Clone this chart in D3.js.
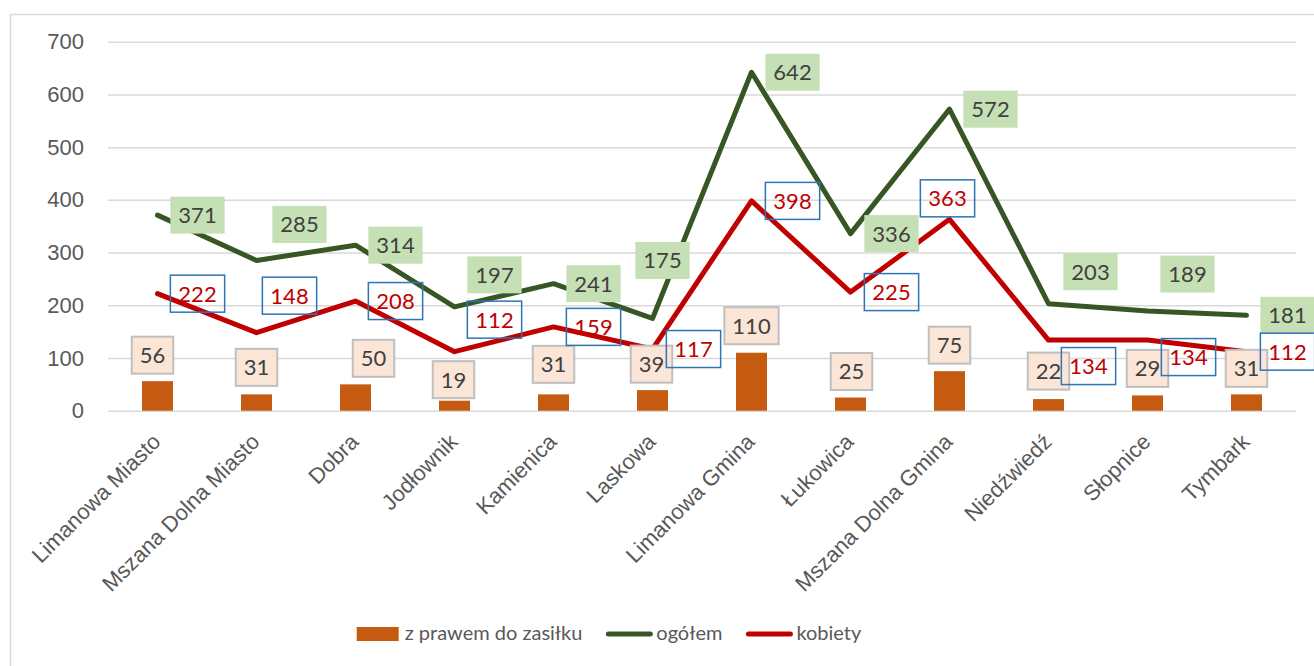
<!DOCTYPE html>
<html>
<head>
<meta charset="utf-8">
<script src="https://cdn.jsdelivr.net/npm/d3@7"></script>
<style>
  body { margin: 0; background: #fff; }
  svg { font-family: Lato, "Open Sans", sans-serif; }
</style>
</head>
<body>
<div id="chart"></div>
<script>
// data
var categories = ["Limanowa Miasto", "Mszana Dolna Miasto", "Dobra", "Jodłownik", "Kamienica", "Laskowa",
  "Limanowa Gmina", "Łukowica", "Mszana Dolna Gmina", "Niedźwiedź", "Słopnice", "Tymbark"];
var zPrawem = [56, 31, 50, 19, 31, 39, 110, 25, 75, 22, 29, 31];
var ogolem = [371, 285, 314, 197, 241, 175, 642, 336, 572, 203, 189, 181];
var kobiety = [222, 148, 208, 112, 159, 117, 398, 225, 363, 134, 134, 112];
var yTicks = [0, 100, 200, 300, 400, 500, 600, 700];
var seriesNames = ["z prawem do zasiłku", "ogółem", "kobiety"];

// label placement (pixel nudges from the point, like dragged labels in the original)
var nudgeBars = [[-5, -26], [0, -27], [18, -26], [-1, -21], [0, -30], [-1, -26], [0, -27], [1, -26], [0, -26], [0, -28], [0, -27], [0, -26]];
var nudgeOgolem = [[40, 0], [43, -36], [40, 0], [40, -32], [40, 0], [10, -58], [41, 0], [41, 0], [41, 0], [42, -32], [40, -37], [41, 0]];
var nudgeKobiety = [[40, 0], [33, -37], [40, 0], [40, -32], [40, 0], [41, 0], [41, 0], [41, 0], [-2, -21], [40, 26], [41, 17], [41, 0]];

var width = 1314, height = 666;
var plot = { left: 108, right: 1296, top: 41.7, bottom: 410.7 };

var colors = { bar: "#C55A11", ogolem: "#375623", kobiety: "#C00000", text: "#595959" };

var svg = d3.select("#chart").append("svg")
  .attr("width", width)
  .attr("height", height);

// outer chart border
svg.append("rect")
  .attr("x", 10.5).attr("y", 14.5)
  .attr("width", 1330).attr("height", 700)
  .attr("fill", "none")
  .attr("stroke", "#D9D9D9")
  .attr("stroke-width", 1.5);

var x = d3.scaleBand()
  .domain(categories)
  .range([plot.left, plot.right])
  .paddingInner(0.687)
  .paddingOuter(0.3435);

var y = d3.scaleLinear()
  .domain([0, 700])
  .range([plot.bottom, plot.top]);

var cx = function(i) { return x(categories[i]) + x.bandwidth() / 2; };

// y axis + gridlines
var yAxis = svg.append("g")
  .attr("transform", "translate(" + plot.left + ",0)")
  .call(d3.axisLeft(y).tickValues(yTicks).tickSize(-(plot.right - plot.left)).tickPadding(24));
yAxis.select(".domain").remove();
yAxis.selectAll(".tick line").attr("stroke", "#D9D9D9").attr("stroke-width", 1.5);
yAxis.selectAll(".tick text")
  .attr("fill", colors.text)
  .style("font-size", "22px");

// x axis labels, rotated
var xAxis = svg.append("g")
  .attr("transform", "translate(0," + plot.bottom + ")")
  .call(d3.axisBottom(x).tickSize(0));
xAxis.select(".domain").remove();
xAxis.selectAll(".tick text")
  .attr("x", 0).attr("y", 0).attr("dy", "0.35em")
  .attr("transform", "translate(-1,27) rotate(-45)")
  .attr("text-anchor", "end")
  .attr("fill", colors.text)
  .style("font-size", "22px");

// bars
svg.append("g").selectAll("rect")
  .data(zPrawem)
  .enter()
  .append("rect")
  .attr("x", function(d, i) { return x(categories[i]); })
  .attr("y", function(d) { return y(d); })
  .attr("width", x.bandwidth())
  .attr("height", function(d) { return y(0) - y(d); })
  .attr("fill", colors.bar);

// lines
var line = d3.line()
  .x(function(d, i) { return cx(i); })
  .y(function(d) { return y(d); });

svg.append("path")
  .datum(ogolem)
  .attr("d", line)
  .attr("fill", "none")
  .attr("stroke", colors.ogolem)
  .attr("stroke-width", 5)
  .attr("stroke-linecap", "round")
  .attr("stroke-linejoin", "round");

svg.append("path")
  .datum(kobiety)
  .attr("d", line)
  .attr("fill", "none")
  .attr("stroke", colors.kobiety)
  .attr("stroke-width", 5)
  .attr("stroke-linecap", "round")
  .attr("stroke-linejoin", "round");

// data labels in boxes
function drawLabels(values, nudge, style) {
  var g = svg.append("g");
  values.forEach(function(v, i) {
    var px = cx(i) + nudge[i][0];
    var py = y(v) + nudge[i][1];
    var lab = g.append("g").attr("transform", "translate(" + px + "," + py + ")");
    var box = lab.append("rect");
    var txt = lab.append("text")
      .attr("text-anchor", "middle")
      .attr("dy", "0.36em")
      .attr("fill", style.color)
      .style("font-size", "22px")
      .text(v);
    var w = txt.node().getComputedTextLength() + 16;
    box.attr("x", -w / 2).attr("y", -18.5)
      .attr("width", w).attr("height", 37)
      .attr("fill", style.fill)
      .attr("stroke", style.stroke)
      .attr("stroke-width", style.strokeWidth);
  });
}

drawLabels(zPrawem, nudgeBars, { fill: "#FBE5D6", stroke: "#BFBFBF", strokeWidth: 2, color: "#404040" });
drawLabels(ogolem, nudgeOgolem, { fill: "#C5E0B4", stroke: "none", strokeWidth: 0, color: "#404040" });
drawLabels(kobiety, nudgeKobiety, { fill: "none", stroke: "#2E75B6", strokeWidth: 1.5, color: "#C00000" });

// legend, centred where the original sits
var legend = svg.append("g");
var lx = 0;
seriesNames.forEach(function(name, i) {
  var item = legend.append("g").attr("transform", "translate(" + lx + ",0)");
  var sw;
  if (i === 0) {
    item.append("rect")
      .attr("x", 0).attr("y", -7)
      .attr("width", 42).attr("height", 14)
      .attr("fill", colors.bar);
    sw = 48;
  } else {
    item.append("line")
      .attr("x1", 2).attr("x2", 44)
      .attr("y1", 0).attr("y2", 0)
      .attr("stroke", i === 1 ? colors.ogolem : colors.kobiety)
      .attr("stroke-width", 5)
      .attr("stroke-linecap", "round");
    sw = 50;
  }
  var t = item.append("text")
    .attr("x", sw)
    .attr("dy", "0.32em")
    .attr("fill", colors.text)
    .style("font-size", "20px")
    .text(name);
  lx += sw + t.node().getComputedTextLength() + (i < seriesNames.length - 1 ? 24 : 0);
});
legend.attr("transform", "translate(" + (609 - lx / 2) + ",634)");
</script>
</body>
</html>
